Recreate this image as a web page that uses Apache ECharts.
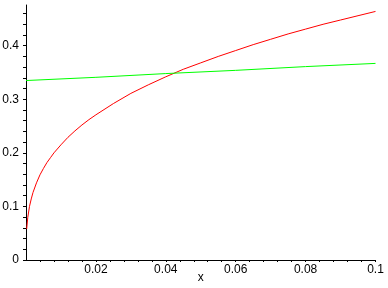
<!DOCTYPE html>
<html>
<head>
<meta charset="utf-8">
<script src="https://cdn.jsdelivr.net/npm/echarts@6/dist/echarts.min.js"></script>
<style>
html,body{margin:0;padding:0;background:#fff;}
#chart{width:388px;height:288px;}
</style>
</head>
<body>
<div id="chart"></div>
<script>
// Data
var redX = [0.0002, 0.0005, 0.001, 0.0015, 0.002, 0.003, 0.004, 0.005, 0.006, 0.007, 0.008, 0.01, 0.012, 0.014, 0.016, 0.018, 0.02, 0.025, 0.03, 0.035, 0.04, 0.045, 0.05, 0.055, 0.06, 0.065, 0.07, 0.075, 0.08, 0.085, 0.09, 0.095, 0.1];
var redY = [0.058, 0.079, 0.100, 0.114, 0.126, 0.144, 0.159, 0.171, 0.182, 0.191, 0.200, 0.215, 0.229, 0.241, 0.252, 0.262, 0.271, 0.292, 0.311, 0.327, 0.342, 0.356, 0.368, 0.380, 0.391, 0.402, 0.412, 0.422, 0.431, 0.440, 0.448, 0.456, 0.464];
var greenX = [0, 0.02, 0.04, 0.06, 0.08, 0.1];
var greenY = [0.335, 0.341, 0.348, 0.354, 0.361, 0.367];
var xTickValues = [0.02, 0.04, 0.06, 0.08, 0.1];
var xTickLabels = ['0.02', '0.04', '0.06', '0.08', '0.1'];
var yTickValues = [0, 0.1, 0.2, 0.3, 0.4];
var yTickLabels = ['0', '0.1', '0.2', '0.3', '0.4'];
var xName = 'x';

function pairs(xs, ys) { return xs.map(function (x, i) { return [x, ys[i]]; }); }
function pick(v, vals, labs) {
  for (var i = 0; i < vals.length; i++) { if (Math.abs(v - vals[i]) < 1e-7) return labs[i]; }
  return '';
}

var chart = echarts.init(document.getElementById('chart'), null, {renderer: 'canvas'});
var font = {fontFamily: 'Liberation Sans, Arial, sans-serif', fontSize: 12, color: '#000'};
chart.setOption({
  backgroundColor: '#fff',
  animation: false,
  grid: {left: 26, right: 12.5, top: 5, bottom: 28, containLabel: false, outerBoundsMode: 'none'},
  xAxis: {
    type: 'value', min: 0, max: 0.1, interval: 0.004,
    name: xName, nameLocation: 'middle', nameGap: 12, nameMoveOverlap: false,
    nameTextStyle: Object.assign({verticalAlign: 'top'}, font),
    axisLine: {onZero: false, lineStyle: {color: '#000', width: 1}},
    axisTick: {show: true, length: 2, lineStyle: {color: '#000'}},
    splitLine: {show: false},
    axisLabel: Object.assign({margin: 4, showMinLabel: false, formatter: function (v) { return pick(v, xTickValues, xTickLabels); }}, font)
  },
  yAxis: {
    type: 'value', min: 0, max: 0.476, interval: 0.02,
    axisLine: {show: true, onZero: false, lineStyle: {color: '#000', width: 1}},
    axisTick: {show: true, length: 3, lineStyle: {color: '#000'}},
    splitLine: {show: false},
    axisLabel: Object.assign({margin: 7, showMaxLabel: false, formatter: function (v) { return pick(v, yTickValues, yTickLabels); }}, font)
  },
  series: [
    {type: 'line', data: pairs(redX, redY), showSymbol: false, lineStyle: {color: '#ff0000', width: 1}, itemStyle: {color: '#ff0000'}},
    {type: 'line', data: pairs(greenX, greenY), showSymbol: false, lineStyle: {color: '#00ff00', width: 1}, itemStyle: {color: '#00ff00'}}
  ]
});
</script>
</body>
</html>
